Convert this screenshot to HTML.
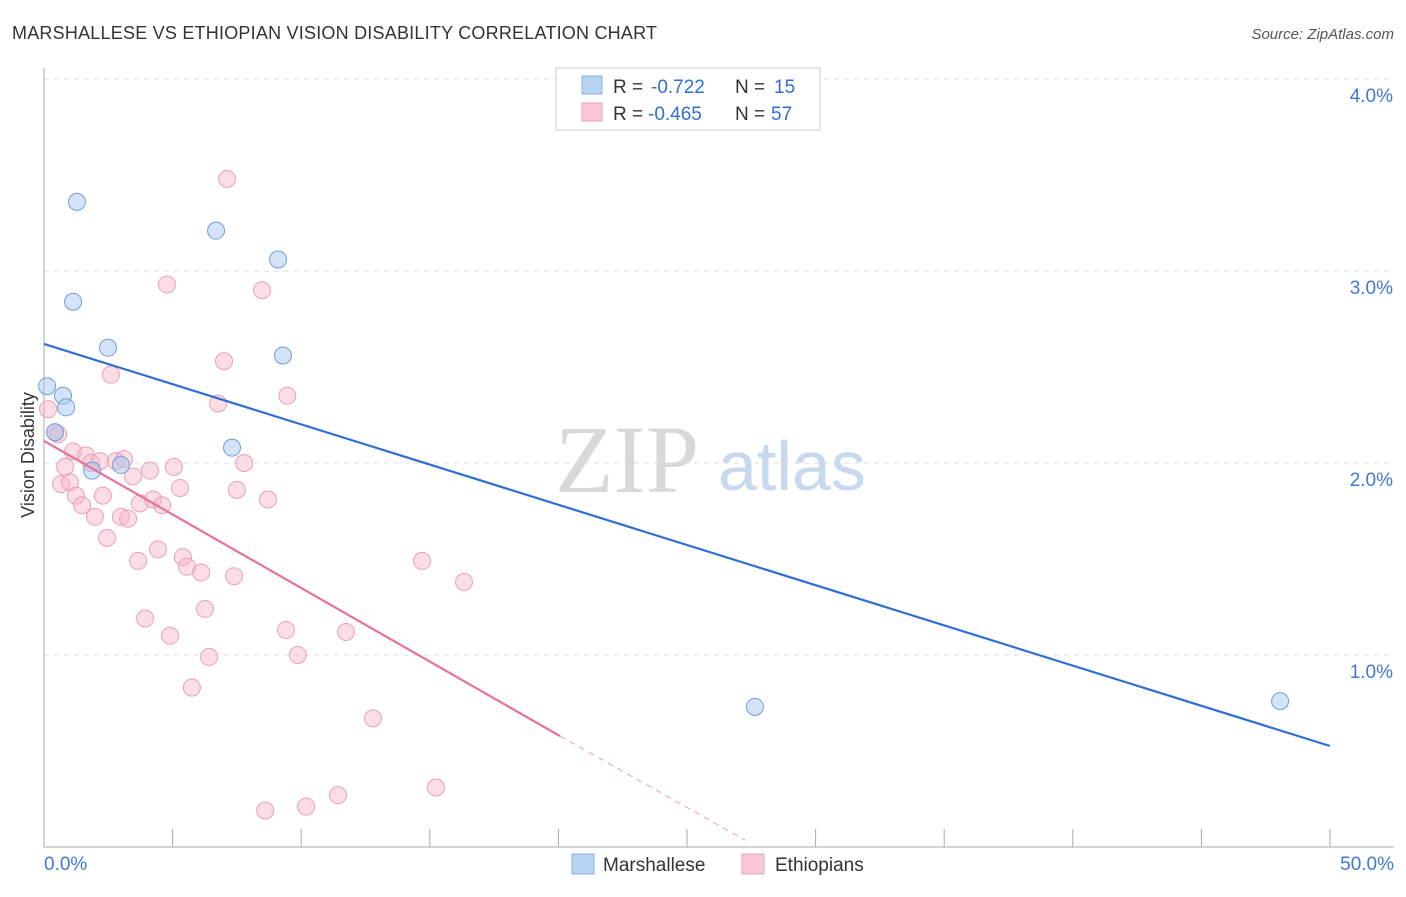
<!DOCTYPE html>
<html><head><meta charset="utf-8">
<style>
body{margin:0;background:#fff;font-family:"Liberation Sans",sans-serif;}
#wrap{position:relative;width:1406px;height:892px;}
</style></head>
<body><div id="wrap">
<svg id="svg" width="1406" height="892" xmlns="http://www.w3.org/2000/svg">
<text x="12" y="39" font-size="18" fill="#333" textLength="645">MARSHALLESE VS ETHIOPIAN VISION DISABILITY CORRELATION CHART</text>
<text x="1394" y="39" font-size="15" fill="#555" text-anchor="end" font-style="italic">Source: ZipAtlas.com</text>
<text x="34" y="455" font-size="18" fill="#333" text-anchor="middle" transform="rotate(-90 34 455)">Vision Disability</text>
<text x="555" y="492" font-size="96" fill="#d8d8d8" font-family="Liberation Serif">ZIP</text>
<text x="718" y="490" font-size="70" fill="#c8d8ee">atlas</text>
<g id="grid"></g><g id="marks"></g><g id="lines"></g>
<g>
<rect x="556" y="68" width="264" height="62" fill="#fff" stroke="#ccc"/>
<rect x="582" y="76" width="20" height="18" fill="#b8d4f4" stroke="#8ab0e0"/>
<rect x="582" y="103" width="20" height="18" fill="#f9c8d6" stroke="#eba0b8"/>
<text x="613" y="93" font-size="19" fill="#333">R =</text>
<text x="651" y="93" font-size="19" fill="#2f6fd4">-0.722</text>
<text x="735" y="93" font-size="19" fill="#333">N =</text>
<text x="774" y="93" font-size="19" fill="#2f6fd4">15</text>
<text x="613" y="120" font-size="19" fill="#333">R =</text>
<text x="648" y="120" font-size="19" fill="#2f6fd4">-0.465</text>
<text x="735" y="120" font-size="19" fill="#333">N =</text>
<text x="771" y="120" font-size="19" fill="#2f6fd4">57</text>
</g>
<g>
<rect x="572" y="854" width="22" height="20" fill="#b8d4f4" stroke="#8ab0e0"/>
<text x="603" y="871" font-size="19" fill="#333">Marshallese</text>
<rect x="742" y="854" width="22" height="20" fill="#f9c8d6" stroke="#eba0b8"/>
<text x="775" y="871" font-size="19" fill="#333">Ethiopians</text>
</g>
</svg>
</div>
<script>
const blueX=[1.28,6.69,9.10,1.13,2.49,9.29,0.12,0.74,0.86,0.43,7.31,1.87,2.99,27.64,48.06];
const blueY=[3.36,3.21,3.06,2.84,2.60,2.56,2.40,2.35,2.29,2.16,2.08,1.96,1.99,0.73,0.76];
const pinkX=[7.12,4.78,8.48,7.0,2.6,9.46,6.77,0.16,0.43,0.55,1.13,1.63,0.82,1.83,2.18,2.8,3.11,4.12,5.05,7.78,3.46,0.66,1.01,1.24,2.29,5.29,7.5,8.71,1.48,3.73,4.24,4.59,1.98,2.99,3.27,2.45,4.43,5.4,3.66,5.56,6.11,7.39,14.7,16.33,6.26,3.93,4.9,9.41,11.74,6.42,9.87,5.75,12.79,15.24,11.43,10.19,8.6];
const pinkY=[3.48,2.93,2.90,2.53,2.46,2.35,2.31,2.28,2.16,2.15,2.06,2.04,1.98,2.0,2.01,2.01,2.02,1.96,1.98,2.0,1.93,1.89,1.9,1.83,1.83,1.87,1.86,1.81,1.78,1.79,1.81,1.78,1.72,1.72,1.71,1.61,1.55,1.51,1.49,1.46,1.43,1.41,1.49,1.38,1.24,1.19,1.10,1.13,1.12,0.99,1.00,0.83,0.67,0.31,0.27,0.21,0.19];
const blueLine=[0,2.62,50,0.526];
const pinkLine=[0,2.115,20.06,0.578];
const pinkDash=[20.06,0.578,27.26,0.036];
const xTickVals=[0,5,10,15,20,25,30,35,40,45,50];
const yTickVals=[1,2,3,4];
const yTickLabels=["1.0%","2.0%","3.0%","4.0%"];
const NS="http://www.w3.org/2000/svg";
const sx=v=>44+v/50*1286, sy=v=>847-v*192;
function mk(t,a,p){const e=document.createElementNS(NS,t);for(const k in a)e.setAttribute(k,a[k]);p.appendChild(e);return e;}
const grid=document.getElementById('grid'),marks=document.getElementById('marks'),lines=document.getElementById('lines');
yTickVals.forEach((v,i)=>{
 const l=mk('line',{x1:44,x2:1394,y1:sy(v),y2:sy(v),stroke:'#ddd','stroke-dasharray':'5,5'},grid);
 
 
 const t=mk('text',{x:1393,y:sy(v)+23,'font-size':19,fill:'#3f7ad6','text-anchor':'end'},grid);
 t.textContent=yTickLabels[i];
 
 
});
const ax=mk('line',{x1:44,x2:44,y1:68,y2:847,stroke:'#aaa'},grid);


const bx=mk('line',{x1:44,x2:1394,y1:847,y2:847,stroke:'#aaa'},grid);


xTickVals.forEach(v=>{
 const t=mk('line',{x1:sx(v),x2:sx(v),y1:829,y2:847,stroke:'#aaa'},grid);
 
 
});
const xl=mk('text',{x:44,y:870,'font-size':19,fill:'#3f7ad6'},grid);xl.textContent='0.0%';


const xr=mk('text',{x:1394,y:870,'font-size':19,fill:'#3f7ad6','text-anchor':'end'},grid);xr.textContent='50.0%';


pinkX.forEach((x,i)=>{
 const c=mk('circle',{cx:sx(x),cy:sy(pinkY[i]),r:8.5,fill:'rgba(246,180,200,0.45)',stroke:'#eba0b8','stroke-width':1},marks);
 
 
});
blueX.forEach((x,i)=>{
 const c=mk('circle',{cx:sx(x),cy:sy(blueY[i]),r:8.5,fill:'rgba(170,200,240,0.5)',stroke:'#6f9fe0','stroke-width':1},marks);
 
 
});
const b=mk('line',{x1:sx(blueLine[0]),y1:sy(blueLine[1]),x2:sx(blueLine[2]),y2:sy(blueLine[3]),stroke:'#2f6fd4','stroke-width':2.2},lines);


const p=mk('line',{x1:sx(pinkLine[0]),y1:sy(pinkLine[1]),x2:sx(pinkLine[2]),y2:sy(pinkLine[3]),stroke:'#e8709a','stroke-width':2.2},lines);


const d=mk('line',{x1:sx(pinkDash[0]),y1:sy(pinkDash[1]),x2:sx(pinkDash[2]),y2:sy(pinkDash[3]),stroke:'#e8a0b8','stroke-width':1,'stroke-dasharray':'6,5'},lines);


</script>
</body></html>
